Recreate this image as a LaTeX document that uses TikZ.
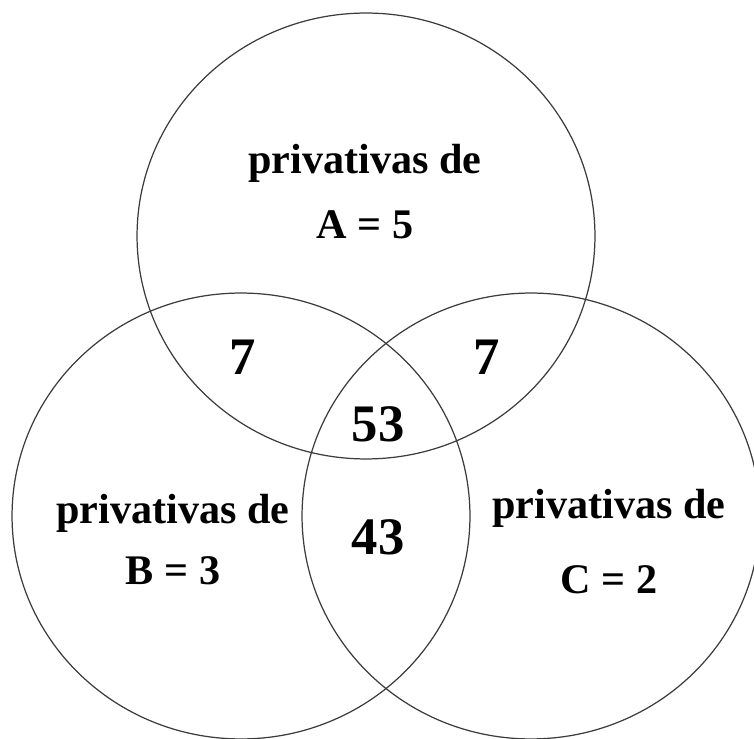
\documentclass[tikz,border=0pt]{standalone}
\usepackage{fontspec}
\setmainfont{Liberation Serif}
\usepackage{tikz}
\usetikzlibrary{positioning,shapes.geometric}
\definecolor{setline}{RGB}{60,60,60}
\tikzset{
  setring/.style={draw=setline, line width=0.7pt, ellipse, inner sep=0pt,
                  minimum width=9.16cm, minimum height=8.92cm},
  privlabel/.style={font=\fontsize{24}{28}\selectfont\bfseries, inner sep=0pt, anchor=base},
  countlabel/.style={font=\fontsize{30}{34}\selectfont\bfseries, inner sep=0pt, anchor=base}
}

\begin{document}
\begin{tikzpicture}[x=0.02cm, y=-0.02cm]
  \useasboundingbox (0,0) rectangle (754,739);
  % the three sets
  \node[setring] (setA) at (366,236) {};
  \node[setring] (setB) at (241,516) {};
  \node[setring] (setC) at (531,516) {};

  % only A, only B, only C
  \node[privlabel] (privA) at (365,174) {privativas de};
  \node[privlabel, below=1.3cm of privA.base, anchor=base] (valA) {A = 5};
  \node[privlabel] (privB) at (173,524) {privativas de};
  \node[privlabel, below=1.22cm of privB.base, anchor=base] (valB) {B = 3};
  \node[privlabel] (privC) at (609,519) {privativas de};
  \node[privlabel, below=1.5cm of privC.base, anchor=base] (valC) {C = 2};

  % intersections
  \node[countlabel] (ab) at (243,375) {7};
  \node[countlabel] (ac) at (487,375) {7};
  \node[countlabel] (abc) at (378,442) {53};
  \node[countlabel] (bc) at (378,555) {43};
\end{tikzpicture}
\end{document}
